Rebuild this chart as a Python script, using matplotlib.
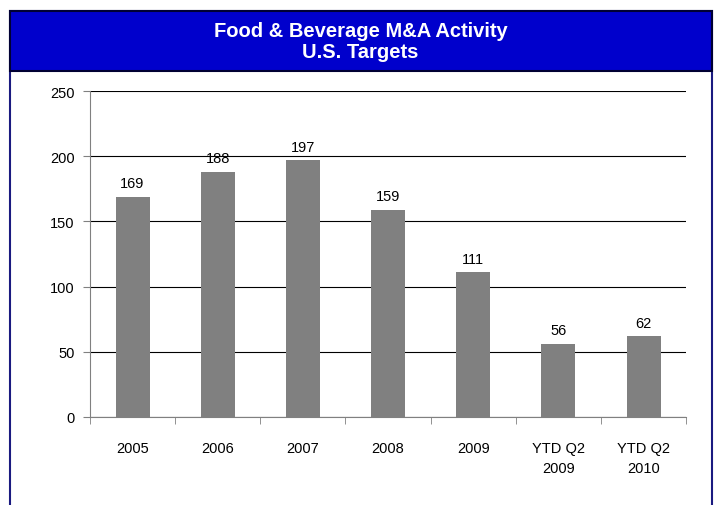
import numpy as np
import matplotlib.pyplot as plt
from matplotlib.patches import Rectangle

categories = ['2005', '2006', '2007', '2008', '2009', 'YTD Q2\n2009', 'YTD Q2\n2010']
deals = [169, 188, 197, 159, 111, 56, 62]
yticks = [0, 50, 100, 150, 200, 250]

plt.rcParams['font.family'] = ['Liberation Sans', 'DejaVu Sans']

fig = plt.figure(figsize=(7.14, 5.06), dpi=100)

# outer frame and title banner
fig.patches.append(Rectangle((0.014, -0.05), 0.983, 1.026, transform=fig.transFigure,
                             fill=False, edgecolor='#1a1a80', linewidth=1.5))
fig.patches.append(Rectangle((0.014, 0.858), 0.983, 0.118, transform=fig.transFigure,
                             facecolor='#0000cc', edgecolor='#000033', linewidth=1.5))
fig.text(0.505, 0.917, 'Food & Beverage M&A Activity\nU.S. Targets', ha='center', va='center',
         color='white', fontsize=14.5, fontweight='bold', linespacing=1.15)

ax = fig.add_axes([0.126, 0.174, 0.835, 0.644])
x = np.arange(len(categories))
ax.bar(x, deals, width=0.4, color='#808080', zorder=3)
for xi, v in zip(x, deals):
    ax.text(xi, v + 5, str(v), ha='center', va='bottom', fontsize=10.5)

ax.set_xlim(-0.5, len(categories) - 0.5)
ax.set_ylim(0, 250)
ax.set_yticks(yticks)
ax.yaxis.grid(True, color='black', linewidth=0.8, zorder=0)
ax.set_axisbelow(True)

ax.set_xticks(x)
ax.set_xticklabels(categories, fontsize=10.5, linespacing=1.6)
ax.set_xticks(np.arange(-0.5, len(categories)), minor=True)
ax.tick_params(axis='x', which='major', length=0, pad=17)
ax.tick_params(axis='x', which='minor', length=5, color='#808080')
ax.tick_params(axis='y', length=5, color='#808080', labelsize=10.5, pad=6)

for s in ['top', 'right']:
    ax.spines[s].set_visible(False)
ax.spines['left'].set_color('#808080')
ax.spines['bottom'].set_color('#808080')

fig.savefig('out.png', dpi=100)
